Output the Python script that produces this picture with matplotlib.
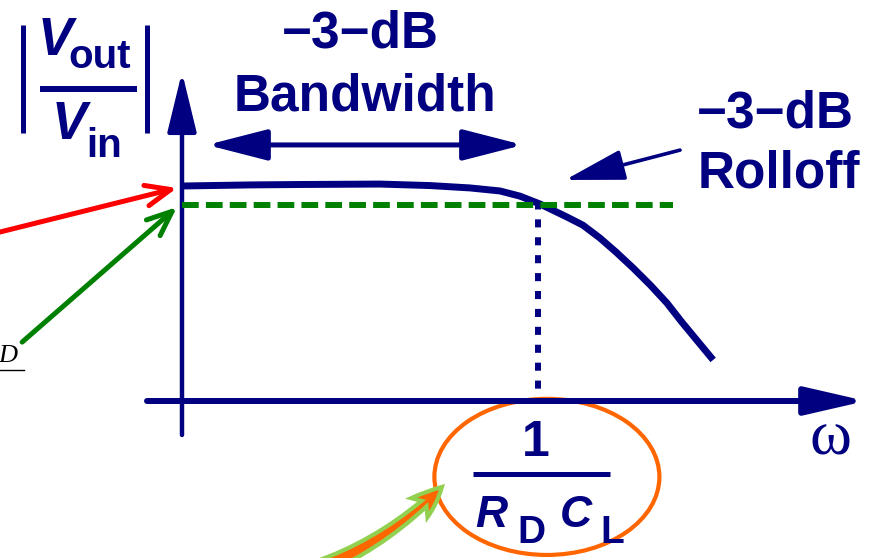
"""
First-order low-pass magnitude response sketch: |Vout/Vin| vs. omega,
with the -3-dB bandwidth and the corner frequency 1/(R_D C_L) marked.
"""

import matplotlib
matplotlib.use("Agg")
import matplotlib.pyplot as plt
from matplotlib.patches import FancyArrowPatch, Ellipse

# ---------------------------------------------------------------- data
# omega normalised to the corner (1/(R_D C_L) = 1), gain normalised to DC
omega = [0.0, 0.191, 0.331, 0.556, 0.697, 0.809, 0.893, 0.949, 1.006,
         1.081, 1.126, 1.174, 1.219, 1.267, 1.315, 1.362, 1.404, 1.455, 1.492]
gain = [1.000, 1.005, 1.007, 1.009, 1.002, 0.991, 0.977, 0.953, 0.916,
        0.856, 0.818, 0.758, 0.693, 0.619, 0.540, 0.456, 0.367, 0.265, 0.191]

W_CORNER = 1.0      # 1/(R_D C_L)
G_3DB = 0.912       # -3-dB level (green reference line)
G_3DB_END = 1.379   # where the reference line stops

NAVY = "#000080"
GREEN = "#008000"
RED = "#ff0000"
ORANGE = "#ff6600"
LIME = "#92d050"

SANS = "Liberation Sans"
SERIF = "Liberation Serif"
FS = 37

# ---------------------------------------------------------------- figure
fig = plt.figure(figsize=(8.73, 5.58), dpi=100)
ax = fig.add_axes([0, 0, 1, 1])
ax.set_xlim(-0.5112, 1.9410)
ax.set_ylim(-0.7302, 1.8651)
ax.axis("off")


def arrow(p0, p1, style, lw, color, z=3, **kw):
    a = FancyArrowPatch(p0, p1, arrowstyle=style, mutation_scale=1,
                        lw=lw, color=color, shrinkA=0, shrinkB=0,
                        zorder=z, **kw)
    ax.add_patch(a)
    return a


# axes with arrow heads
arrow((0, -0.158), (0, 1.530), "-|>,head_length=37,head_width=9", 3.2, NAVY, z=4)
arrow((-0.0983, 0), (1.921, 0), "-|>,head_length=37,head_width=8.5", 4.3, NAVY, z=4)

# response curve and -3-dB construction lines
ax.plot(omega, gain, color=NAVY, lw=5, solid_capstyle="butt",
        solid_joinstyle="round", zorder=3)
ax.plot([0, G_3DB_END], [G_3DB, G_3DB], color=GREEN, lw=4.3,
        ls=(0, (2.8, 1.2)), dash_capstyle="butt", zorder=5)
ax.plot([W_CORNER, W_CORNER], [G_3DB, 0], color=NAVY, lw=4.3,
        ls=(0.6, (1.35, 1.65)), dash_capstyle="butt", zorder=2)

# bandwidth double arrow + labels
arrow((0.070, 1.191), (0.958, 1.191), "<|-|>,head_length=37,head_width=9.5", 3.6, NAVY)
ax.text(0.500, 1.642, "\u22123\u2212dB", ha="center", va="baseline",
        fontsize=FS, fontweight="bold", family=SANS, color=NAVY)
ax.text(0.515, 1.353, "Bandwidth", ha="center", va="baseline",
        fontsize=FS, fontweight="bold", family=SANS, color=NAVY)

# roll-off pointer
arrow((1.399, 1.167), (1.076, 1.028), "-|>,head_length=37,head_width=9.5", 2.6, NAVY)
ax.text(1.447, 1.274, "\u22123\u2212dB", ha="left", va="baseline",
        fontsize=FS, fontweight="bold", family=SANS, color=NAVY)
ax.text(1.449, 0.991, "Rolloff", ha="left", va="baseline",
        fontsize=FS, fontweight="bold", family=SANS, color=NAVY)

# |Vout / Vin| label
for xb in (-0.447, -0.098):
    ax.plot([xb, xb], [1.247, 1.749], color=NAVY, lw=3.6, solid_capstyle="butt")
ax.plot([-0.399, -0.126], [1.451, 1.451], color=NAVY, lw=4.3, solid_capstyle="butt")
ax.text(-0.407, 1.609, "V", ha="left", va="baseline", fontsize=38,
        fontweight="bold", style="italic", family=SANS, color=NAVY)
ax.text(-0.318, 1.549, "out", ha="left", va="baseline", fontsize=29,
        fontweight="bold", family=SANS, color=NAVY)
ax.text(-0.365, 1.219, "V", ha="left", va="baseline", fontsize=38,
        fontweight="bold", style="italic", family=SANS, color=NAVY)
ax.text(-0.270, 1.135, "in", ha="left", va="baseline", fontsize=29,
        fontweight="bold", family=SANS, color=NAVY)

# red / green pointers from the left margin
arrow((-0.567, 0.763), (-0.014, 0.991), "->,head_length=18,head_width=7.5", 3.6, RED,
      capstyle="round", joinstyle="round")
arrow((-0.449, 0.274), (-0.014, 0.902), "->,head_length=18,head_width=7.5", 3.6, GREEN,
      capstyle="round", joinstyle="round")
ax.text(-0.463, 0.181, "D", ha="right", va="baseline", fontsize=19,
        style="italic", family=SERIF, color="black")
ax.plot([-0.525, -0.444], [0.144, 0.144], color="black", lw=1)

# corner-frequency tick label 1/(R_D C_L)
ax.text(0.994, -0.256, "1", ha="center", va="baseline", fontsize=36,
        fontweight="bold", family=SANS, color=NAVY)
ax.plot([0.817, 1.202], [-0.340, -0.340], color=NAVY, lw=3.6, solid_capstyle="butt")
ax.text(0.823, -0.586, "R", ha="left", va="baseline", fontsize=32,
        fontweight="bold", style="italic", family=SANS, color=NAVY)
ax.text(0.941, -0.660, "D", ha="left", va="baseline", fontsize=28,
        fontweight="bold", family=SANS, color=NAVY)
ax.text(1.062, -0.586, "C", ha="left", va="baseline", fontsize=32,
        fontweight="bold", style="italic", family=SANS, color=NAVY)
ax.text(1.174, -0.660, "L", ha="left", va="baseline", fontsize=28,
        fontweight="bold", family=SANS, color=NAVY)

ax.text(1.823, -0.251, "\u03c9", ha="center", va="baseline", fontsize=46,
        family=SERIF, color=NAVY)

# highlight around the corner frequency
ax.add_patch(Ellipse((1.025, -0.353), 0.632, 0.726, fill=False,
                     ec=ORANGE, lw=3, zorder=1))
arrow((0.030, -0.890), (0.730, -0.400),
      "fancy,head_length=22,head_width=18,tail_width=18",
      3, None, z=3, connectionstyle="arc3,rad=0.2",
      joinstyle="miter").set(fc=ORANGE, ec=LIME)

fig.savefig("out.png", dpi=100)
